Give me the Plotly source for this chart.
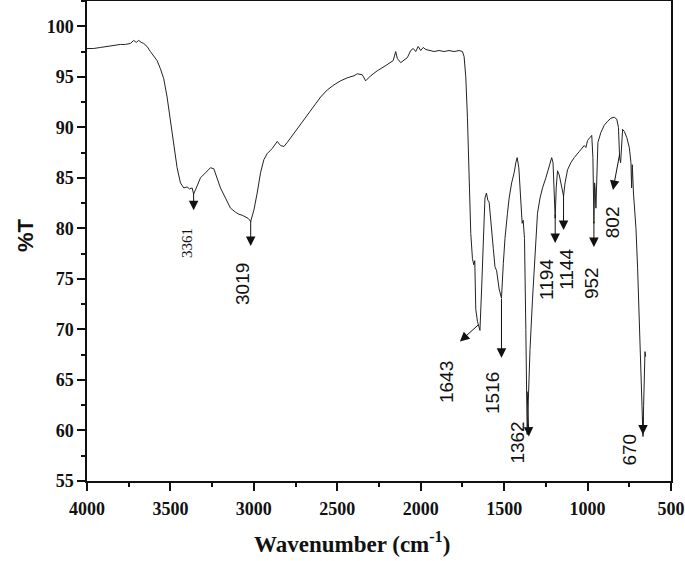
import plotly.graph_objects as go

wavenumber = [4000, 3960, 3920, 3880, 3840, 3800, 3770, 3740, 3720, 3705, 3690, 3675, 3660, 3640,
              3620, 3600, 3580, 3560, 3540, 3520, 3500, 3480, 3460, 3440, 3420, 3400, 3385, 3370,
              3361, 3345, 3320, 3290, 3260, 3240, 3220, 3200, 3170, 3140, 3110, 3090, 3070, 3050,
              3035, 3019, 3000, 2980, 2960, 2940, 2920, 2890, 2860, 2840, 2820, 2800, 2760, 2720,
              2680, 2640, 2600, 2560, 2520, 2480, 2440, 2400, 2380, 2350, 2330, 2300, 2260, 2220,
              2190, 2165, 2150, 2140, 2120, 2100, 2080, 2060, 2045, 2030, 2015, 2000, 1985, 1970,
              1950, 1920, 1890, 1860, 1830, 1800, 1770, 1750, 1740, 1730, 1720, 1710, 1700, 1690,
              1682, 1676, 1670, 1660, 1650, 1645, 1635, 1625, 1615, 1606, 1598, 1590, 1580, 1565,
              1555, 1545, 1530, 1516, 1505, 1495, 1480, 1470, 1455, 1440, 1430, 1422, 1412, 1400,
              1392, 1386, 1378, 1370, 1362, 1355, 1345, 1330, 1315, 1300, 1285, 1270, 1250, 1230,
              1215, 1207, 1200, 1194, 1188, 1180, 1170, 1155, 1144, 1135, 1120, 1100, 1080, 1050,
              1020, 1010, 1000, 985, 975, 968, 962, 958, 955, 950, 945, 938, 920, 900, 880, 860,
              840, 825, 815, 808, 802, 796, 790, 780, 765, 750, 740, 736, 732, 725, 710, 700, 690,
              680, 672, 668, 664, 660, 656, 652]
transmittance = [97.8, 97.8, 97.9, 98.0, 98.1, 98.2, 98.2, 98.3, 98.6, 98.4, 98.6, 98.4, 98.3, 98.0,
                 97.5, 97.0, 96.6, 95.8, 94.8, 93.0, 90.5, 88.0, 86.0, 84.5, 84.0, 84.1, 83.9, 84.0,
                 83.4, 84.0, 85.0, 85.5, 86.0, 85.9, 85.0, 84.0, 83.0, 82.0, 81.6, 81.4, 81.3, 81.1,
                 81.0, 80.7, 81.8, 83.5, 85.5, 86.8, 87.4, 87.9, 88.6, 88.2, 88.1, 88.5, 89.4, 90.3,
                 91.3, 92.2, 93.0, 93.7, 94.2, 94.6, 94.9, 95.1, 95.3, 95.2, 94.6, 95.1, 95.6, 96.0,
                 96.3, 96.6, 97.5, 96.8, 96.4, 96.7, 96.9, 97.6, 97.8, 97.5, 98.0, 97.6, 97.9, 97.7,
                 97.6, 97.5, 97.6, 97.5, 97.6, 97.5, 97.6, 97.5, 97.0, 95.0, 91.0, 85.0, 79.5, 77.0,
                 76.4, 76.8, 72.0, 70.8, 70.2, 69.9, 74.0, 79.0, 83.0, 83.5, 82.8, 82.6, 80.5, 78.0,
                 76.2, 75.8, 74.0, 73.1, 76.5, 79.0, 81.5, 83.0, 84.5, 85.5, 86.5, 87.0, 86.0, 82.5,
                 80.5, 80.8, 79.0, 70.0, 59.6, 63.0, 68.0, 73.0, 78.0, 81.5, 83.0, 84.0, 85.0, 86.3,
                 87.0, 86.5, 83.0, 81.0, 84.0, 85.7, 85.3, 84.0, 83.2, 84.5, 85.8, 86.5, 87.0, 87.6,
                 88.2, 88.0, 88.7, 89.0, 89.2, 87.0, 80.5, 84.5, 84.0, 82.0, 86.0, 88.5, 89.5, 90.2,
                 90.6, 90.9, 91.0, 90.8, 90.0, 87.0, 86.5, 88.5, 89.8, 89.6, 89.0, 88.0, 86.5, 84.0,
                 86.3, 83.5, 80.0, 76.0, 71.0, 66.0, 61.5, 59.4, 62.5, 66.5, 67.8, 67.3]

peak_labels = ["3361", "3019", "1643", "1516", "1362", "1194", "1144", "952", "802", "670"]
# arrow head (x, y), arrow tail (x, y), label centre (x, y)
arrow_head_x = [3361, 3019, 1765, 1516, 1352, 1194, 1144, 962, 848, 668]
arrow_head_y = [81.8, 78.25, 68.8, 67.2, 59.4, 78.55, 79.85, 78.15, 83.8, 59.6]
arrow_tail_x = [3361, 3019, 1645, 1516, 1362, 1194, 1144, 962, 806, 668]
arrow_tail_y = [83.6, 80.9, 70.6, 73.2, 64.0, 81.5, 83.5, 80.8, 87.5, 61.5]
label_x = [3401, 3065, 1842, 1573, 1417, 1243, 1123, 973, 854, 746]
label_y = [78.55, 74.5, 64.8, 63.7, 58.8, 74.9, 75.9, 74.6, 80.6, 58.1]

fig = go.Figure()
fig.add_trace(go.Scatter(x=wavenumber, y=transmittance, mode="lines",
                         line=dict(color="#222222", width=1), showlegend=False, hoverinfo="skip"))

annotations = []
for i, lab in enumerate(peak_labels):
    annotations.append(dict(x=arrow_head_x[i], y=arrow_head_y[i], ax=arrow_tail_x[i], ay=arrow_tail_y[i],
                            xref="x", yref="y", axref="x", ayref="y", text="", showarrow=True,
                            arrowhead=2, arrowsize=1.9, arrowwidth=1, arrowcolor="#111111", standoff=0))
    if lab == "3361":
        fnt = dict(family="Liberation Serif", size=15, color="#111111")
    else:
        fnt = dict(family="Liberation Sans", size=19, color="#111111")
    annotations.append(dict(x=label_x[i], y=label_y[i], xref="x", yref="y", text=lab, showarrow=False,
                            textangle=-90, font=fnt, xanchor="center", yanchor="middle"))

annotations.append(dict(x=0.4538, y=-0.128, xref="paper", yref="paper",
                        text="<b>Wavenumber (cm<sup>-1</sup>)</b>", showarrow=False,
                        font=dict(family="Liberation Serif", size=23, color="#111111"),
                        xanchor="center", yanchor="middle"))
annotations.append(dict(x=-0.106, y=0.5125, xref="paper", yref="paper", text="<b>%T</b>",
                        showarrow=False, textangle=-90,
                        font=dict(family="Liberation Sans", size=22, color="#111111"),
                        xanchor="center", yanchor="middle"))

tickfont = dict(family="Liberation Serif", size=18, color="#111111")
fig.update_layout(
    width=685, height=561,
    margin=dict(l=87, r=14, t=1, b=80, autoexpand=False),
    paper_bgcolor="white", plot_bgcolor="white",
    annotations=annotations,
    xaxis=dict(range=[4000, 500], tickvals=[4000, 3500, 3000, 2500, 2000, 1500, 1000, 500],
               ticktext=["<b>4000</b>", "<b>3500</b>", "<b>3000</b>", "<b>2500</b>", "<b>2000</b>",
                         "<b>1500</b>", "<b>1000</b>", "<b>500</b>"],
               ticks="outside", ticklen=8, tickwidth=1.5, tickcolor="#111111", automargin=False,
               ticklabelstandoff=3,
               minor=dict(dtick=250, ticks="outside", ticklen=4, tickwidth=1.5, tickcolor="#111111", showgrid=False),
               showline=True, linecolor="#111111", linewidth=1.5, mirror=True,
               showgrid=False, zeroline=False, tickfont=tickfont),
    yaxis=dict(range=[55, 102.5], tickvals=[55, 60, 65, 70, 75, 80, 85, 90, 95, 100],
               ticktext=["<b>%d</b>" % v for v in [55, 60, 65, 70, 75, 80, 85, 90, 95, 100]],
               ticks="outside", ticklen=8, tickwidth=1.5, tickcolor="#111111", automargin=False,
               minor=dict(tick0=55, dtick=2.5, ticks="outside", ticklen=4, tickwidth=1.5, tickcolor="#111111", showgrid=False),
               showline=True, linecolor="#111111", linewidth=1.5, mirror=True,
               showgrid=False, zeroline=False, tickfont=tickfont),
)

fig.write_html("out.html", config={"displayModeBar": False},
               post_script="document.body.style.margin='0';document.body.style.padding='0';")
